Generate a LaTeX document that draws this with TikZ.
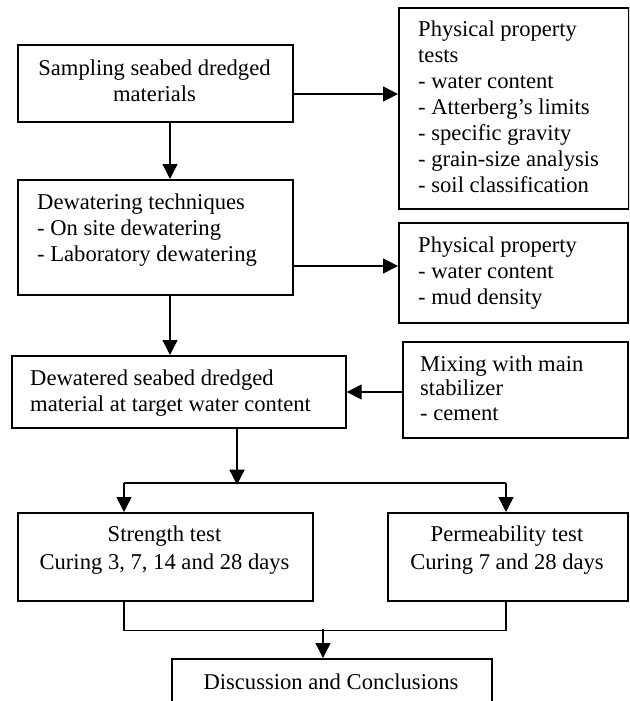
\documentclass[tikz,border=0pt]{standalone}
\usepackage{fontspec}
\setmainfont{Liberation Serif}
\usetikzlibrary{arrows.meta,calc}
\begin{document}
\begin{tikzpicture}[x=1pt,y=-1pt,
  box/.style={draw, line width=1.7pt, inner sep=0pt, rectangle, anchor=north west},
  txt/.style={inner sep=0pt, font=\fontsize{22.6}{26}\selectfont},
  arr/.style={line width=1.4pt, -{Triangle[length=15pt,width=15pt]}},
  ln/.style={line width=1.4pt}]
\useasboundingbox (0,0) rectangle (629,701);
\clip (0,0) rectangle (629,701);
% boxes
\node[box, minimum width=275pt, minimum height=77pt]  (b1)  at (17,44) {};
\node[box, minimum width=230pt, minimum height=201pt] (ppt) at (398,7) {};
\node[box, minimum width=275pt, minimum height=115pt] (b2)  at (17,179) {};
\node[box, minimum width=229pt, minimum height=100pt] (pp2) at (398,222) {};
\node[box, minimum width=334pt, minimum height=72pt]  (b3)  at (11,355) {};
\node[box, minimum width=225pt, minimum height=96pt]  (mix) at (402,341) {};
\node[box, minimum width=295pt, minimum height=88pt]  (st)  at (17,512) {};
\node[box, minimum width=240pt, minimum height=88pt]  (pm)  at (387,512) {};
\node[box, minimum width=320pt, minimum height=70pt]  (dc)  at (171,658) {};
% texts
\node[txt, anchor=north, align=center] (t1) at (154.5,57) {\rule{0pt}{18pt}Sampling seabed dredged\\materials};
\node[txt, anchor=north west, align=left] (tppt) at (418,18) {\rule{0pt}{18pt}Physical property\\tests\\- water content\\- Atterberg’s limits\\- specific gravity\\- grain-size analysis\\- soil classification};
\node[txt, anchor=north west, align=left] (t2) at (37,191) {\rule{0pt}{18pt}Dewatering techniques\\- On site dewatering\\- Laboratory dewatering};
\node[txt, anchor=north west, align=left] (tpp2) at (418,234) {\rule{0pt}{18pt}Physical property\\- water content\\- mud density};
\node[txt, anchor=north west, align=left] (t3) at (30,367) {\rule{0pt}{18pt}Dewatered seabed dredged\\material at target water content};
\node[txt, anchor=north west, align=left, font=\fontsize{22.6}{24.5}\selectfont] (tmix) at (420,353) {\rule{0pt}{18pt}Mixing with main\\stabilizer\\- cement};
\node[txt, anchor=north, align=center, font=\fontsize{22.6}{28}\selectfont] (tst) at (164.5,523) {\rule{0pt}{18pt}Strength test\\Curing 3, 7, 14 and 28 days};
\node[txt, anchor=north, align=center, font=\fontsize{22.6}{28}\selectfont] (tpm) at (507,523) {\rule{0pt}{18pt}Permeability test\\Curing 7 and 28 days};
\node[txt, anchor=north, align=center] (tdc) at (331,671) {\rule{0pt}{18pt}Discussion and Conclusions};
% connectors
\coordinate (a1) at ($(b1.north east)+(0,50)$);
\draw[arr] (a1) -- (a1 -| ppt.west);
\coordinate (d1) at ($(b1.south west)+(153,0)$);
\draw[arr] (d1) -- (d1 |- b2.north);
\coordinate (a2) at ($(b2.north east)+(0,87)$);
\draw[arr] (a2) -- (a2 -| pp2.west);
\coordinate (d2) at ($(b2.south west)+(153,0)$);
\draw[arr] (d2) -- (d2 |- b3.north);
\coordinate (a3) at ($(mix.north west)+(0,51)$);
\draw[arr] (a3) -- (a3 -| b3.east);
\coordinate (d3) at ($(b3.south west)+(226,0)$);
\coordinate (j1) at ($(d3)+(0,56)$);
\draw[arr] (d3) -- (j1);
\coordinate (sL) at ($(st.north west)+(107,-29)$);
\coordinate (sR) at ($(pm.north west)+(119,-29)$);
\draw[ln] (sL) -- (sR);
\draw[arr] (sL) -- (sL |- st.north);
\draw[arr] (sR) -- (sR |- pm.north);
\coordinate (bL) at ($(st.south west)+(107,29)$);
\coordinate (bR) at ($(pm.south west)+(119,29)$);
\draw[ln] (bL |- st.south) -- (bL) -- (bR) -- (bR |- pm.south);
\coordinate (bm) at ($(dc.north west)+(152,-29)$);
\draw[arr] (bm) -- (bm |- dc.north);
\end{tikzpicture}
\end{document}
